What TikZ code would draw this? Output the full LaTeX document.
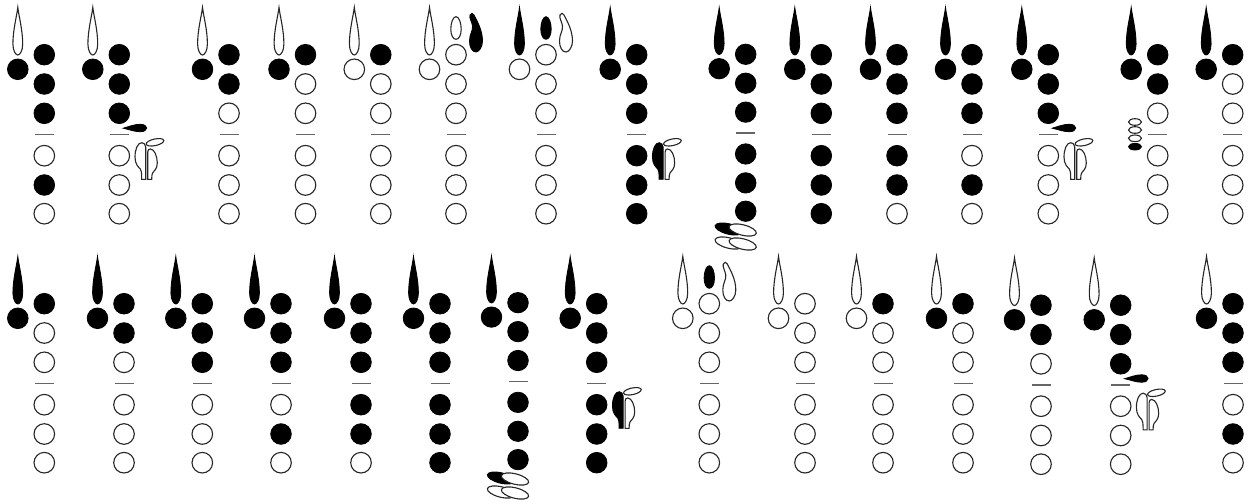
\documentclass[tikz,border=0pt]{standalone}
\tikzset{k0/.style={draw=black!85,fill=white,line width=.55pt},
  k1/.style={draw=black,fill=black,line width=.42pt},
  breakline/.style={draw=black!60,line width=.7pt}}
\begin{document}
\begin{tikzpicture}[x=.5pt,y=-.5pt]
\useasboundingbox (0,0) rectangle (1255,504);
\foreach \cx/\off/\sy/\rd/\hl/\ha/\hb/\hc/\hd/\he/\hf in {
  44.3/0/1/0/1/1/1/1/0/1/0,119.3/0/1/0/1/1/1/1/0/0/0,229/0/1/0/1/1/1/0/0/0/0,305.5/0/1/0/1/1/0/0/0/0/0,
  380.8/0/1/0/0/1/0/0/0/0/0,456/0/1/0/0/0/0/0/0/0/0,546/0/1/1/0/0/0/0/0/0/0,636.7/0/1/1/1/1/1/1/1/1/1,
  745.7/.3/.987/1/1/1/1/1/1/1/1,821.3/0/1/1/1/1/1/1/1/1/1,897/0/1/1/1/1/1/1/1/1/0,972/0/1/1/1/1/1/1/0/1/0,
  1048.3/0/1/1/1/1/1/1/0/0/0,1157.7/0/1/1/1/1/1/0/0/0/0,1232.7/0/1/1/1/1/0/0/0/0/0,
  44.3/249/1/1/1/1/0/0/0/0/0,124/249/1/1/1/1/1/0/0/0/0,202.3/249/1/1/1/1/1/1/0/0/0,281/249/1/1/1/1/1/1/0/1/0,
  361/249/1/1/1/1/1/1/1/1/0,440/249/1/1/1/1/1/1/1/1/1,518/248.7/.987/1/1/1/1/1/1/1/1,596.7/249/1/1/1/1/1/1/1/1/1,
  709.3/249/1/0/0/0/0/0/0/0/0,805/249/1/0/0/0/0/0/0/0/0,883/249/1/0/0/1/0/0/0/0/0,963/249/1/0/1/1/0/0/0/0/0,
  1041/250.5/1/0/1/1/1/0/0/0/0,1120.7/250.5/1/0/1/1/1/1/0/0/0,1233/249/1/0/1/1/1/1/0/1/0}{
\begin{scope}[shift={(\cx,\off)},yscale=\sy]
\draw[k\rd] (-26.5,7.4) .. controls (-27.5,16) and (-31.4,30) .. (-31.4,44) .. controls (-31.4,51) and (-28.5,55) .. (-26.5,55)
  .. controls (-24.5,55) and (-21.6,51) .. (-21.6,44) .. controls (-21.6,30) and (-25.5,16) .. (-26.5,7.4) -- cycle;
\draw[k\hl] (-26.5,69.3) circle (10.3);
\foreach \yy/\st in {54.7/\ha,84/\hb,113.3/\hc,155.7/\hd,185/\he,213.7/\hf}{
\draw[k\st] (0,\yy) circle (10.3);}
\draw[breakline] (-9.5,134.3)--(9.5,134.3);
\end{scope}}
\foreach \cx/\off/\st in {119.3/0/0,636.7/0/1,1048.3/0/0,596.7/249/1,1120.7/250.5/0}{
\begin{scope}[shift={(\cx,\off)}]
\draw[k\st] (26.4,179.3)--(26.4,147) .. controls (26.4,144.5) and (24.5,142.7) .. (22.5,142.7) .. controls (18.5,142.7) and (15.7,149) .. (15.7,157)
  .. controls (15.7,164) and (19,167) .. (21,169) .. controls (22,170.5) and (22.4,172) .. (22.4,179.3) -- cycle;
\draw[k0] (28.4,179.3)--(28.4,152) .. controls (28.4,150) and (29.5,149) .. (31,149) .. controls (35,149) and (38,156) .. (38,163)
  .. controls (38,169) and (34.5,171) .. (33.3,173) .. controls (32.6,174.5) and (32.4,176) .. (32.4,179.3) -- cycle;
\draw[k0,rotate around={12:(35.7,142.3)}] (35.7,142.3) ellipse (9 and 3.3);
\end{scope}}
\foreach \cx/\off in {119.3/0,1048.3/0,1120.7/250.5}{
\begin{scope}[shift={(\cx,\off)}]
\draw[k1] (4,128.2) .. controls (10,126.5) and (15,124.3) .. (21,124.3) .. controls (25,124.3) and (27.4,126) .. (27.4,128)
  .. controls (27.4,130) and (25,131.7) .. (21,131.7) .. controls (15,131.7) and (10,129.5) .. (4,128.2) -- cycle;
\end{scope}}
\foreach \cx/\off/\eg/\lf in {456/0/0/1,546/0/1/0,709.3/249/1/0}{
\begin{scope}[shift={(\cx,\off)}]
\draw[k\eg] (0,16.7) .. controls (3,16.7) and (5.2,23) .. (5.2,29) .. controls (5.2,35) and (3,39.3) .. (0,39.3)
  .. controls (-3,39.3) and (-5.2,35) .. (-5.2,29) .. controls (-5.2,23) and (-3,16.7) .. (0,16.7) -- cycle;
\draw[k\lf] (14,15) .. controls (15,12.5) and (17,13) .. (18,15) .. controls (21,21) and (26.5,30) .. (26.5,41) .. controls (26.5,47) and (23,52) .. (20,52)
  .. controls (16,52) and (13.5,47) .. (13.5,41) .. controls (13.5,34) and (17,31) .. (16.5,26) .. controls (16,22) and (13,18) .. (14,15) -- cycle;
\end{scope}}
\foreach \cx/\off in {745.7/0,518/249}{
\begin{scope}[shift={(\cx,\off)}]
\draw[k1,rotate around={-14:(-17,229)}] (-17,229) ellipse (14 and 5.2);
\draw[k0,rotate around={-14:(-3,230)}] (-3,230) ellipse (14 and 5.2);
\draw[k0,rotate around={-14:(-17,243)}] (-17,243) ellipse (14 and 5.2);
\draw[k0,rotate around={-14:(-3,244)}] (-3,244) ellipse (14 and 5.2);
\end{scope}}
\foreach \yy/\st in {122/0,130/0,138.3/0,146.7/1}{
\draw[k\st] (1135,\yy) ellipse (6.5 and 3.3);}
\end{tikzpicture}
\end{document}
